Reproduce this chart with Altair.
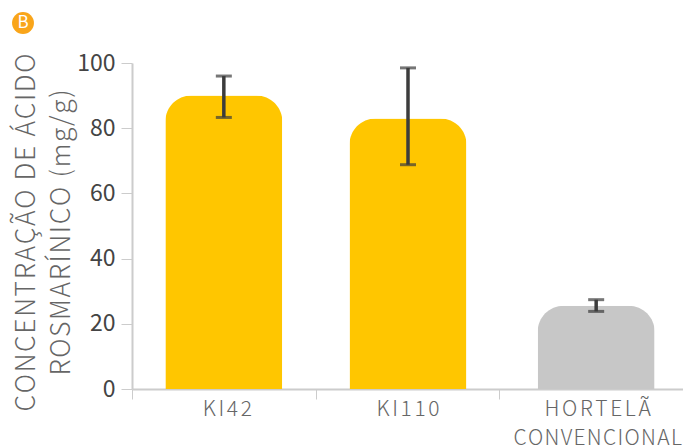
import altair as alt
import pandas as pd

categories = ["KI42", "KI110", "HORTELÃ CONVENCIONAL"]
values = [90, 83, 25.5]
err_low = [83.3, 68.8, 23.8]
err_high = [96, 98.5, 27.4]
colors = ["#FFC600", "#FFC600", "#C7C7C7"]
FONT = "Noto Sans CJK SC"
HS = "\u200a"

def sp(s, g=HS):
    return g.join(s)

df = pd.DataFrame(dict(cat=categories, v=values, lo=err_low, hi=err_high, c=colors))

label_expr = (f"datum.label == 'KI42' ? '{sp('KI42', HS + HS)}' : datum.label == 'KI110' ? '{sp('KI110', HS + HS)}' : "
              f"datum.label == 'HORTELÃ CONVENCIONAL' ? ['{sp('HORTELÃ', HS + HS)}', '{sp('CONVENCIONAL')}'] : ''")

x = alt.X("cat:N", sort=categories, title=None,
          scale=alt.Scale(paddingInner=0, paddingOuter=0),
          axis=alt.Axis(labelAngle=0, labelFont=FONT, labelFontSize=21, labelFontWeight=300,
                        labelColor="#666666", labelPadding=-1, labelLimit=300,
                        labelExpr=label_expr,
                        labelOffset=alt.expr("datum.value == 'HORTELÃ CONVENCIONAL' ? 6 : datum.value == 'KI42' ? 3 : 0"),
                        labelLineHeight=29, labelBaseline="top",
                        domainColor="#CCCCCC", domainWidth=2, tickColor="#CCCCCC", tickWidth=1,
                        tickSize=10, tickBand="extent", grid=False))
y = alt.Y("v:Q", title=[sp("CONCENTRAÇÃO DE ÁCIDO"), sp("ROSMARÍNICO (mg/g)")],
          scale=alt.Scale(domain=[0, 100], nice=False),
          axis=alt.Axis(values=[0, 20, 40, 60, 80, 100], labelFont=FONT, labelFontSize=23, labelFontWeight=400,
                        labelColor="#444444", labelPadding=6, tickSize=11, tickColor="#CCCCCC", tickWidth=1,
                        domainColor="#CCCCCC", domainWidth=2, grid=False,
                        titleFont=FONT, titleFontSize=26.5, titleFontWeight=300, titleColor="#666666",
                        titleLineHeight=35, titleX=-92, titleY=169, titleAnchor="middle", titlePadding=20))


def group(d, shift):
    bars = alt.Chart(d).mark_bar(size=117, cornerRadiusTopLeft=26, cornerRadiusTopRight=26, xOffset=shift).encode(
        x=x, y=y, color=alt.Color("c:N", scale=None))
    rule = alt.Chart(d).mark_rule(color="#3C3C3C", strokeWidth=3.5, xOffset=shift).encode(
        x=alt.X("cat:N", sort=categories), y=alt.Y("lo:Q"), y2="hi:Q")
    cap_lo = alt.Chart(d).mark_tick(color="#3C3C3C", thickness=3, size=16, xOffset=shift).encode(
        x=alt.X("cat:N", sort=categories), y=alt.Y("lo:Q"))
    cap_hi = alt.Chart(d).mark_tick(color="#3C3C3C", thickness=3, size=16, xOffset=shift).encode(
        x=alt.X("cat:N", sort=categories), y=alt.Y("hi:Q"))
    return [bars, rule, cap_lo, cap_hi]

badge_df = pd.DataFrame({"t": ["B"]})
badge = alt.Chart(badge_df).mark_point(filled=True, size=480, color="#F9A51A", opacity=1, shape="circle").encode(
    x=alt.value(-109), y=alt.value(-40))
badge_t = alt.Chart(badge_df).mark_text(font=FONT, fontSize=17, color="white", fontWeight=400).encode(
    x=alt.value(-109), y=alt.value(-40), text="t:N")

chart = alt.layer(*group(df.iloc[:1], 0), *group(df.iloc[1:2], 0.5), *group(df.iloc[2:], 5), badge, badge_t).properties(
    width=551, height=326,
    autosize=alt.AutoSizeParams(type="none"),
    padding={"left": 124, "top": 55, "right": 0, "bottom": 56},
).configure_view(stroke=None)

chart.save("out.html", embed_options={"renderer": "svg", "actions": False})
